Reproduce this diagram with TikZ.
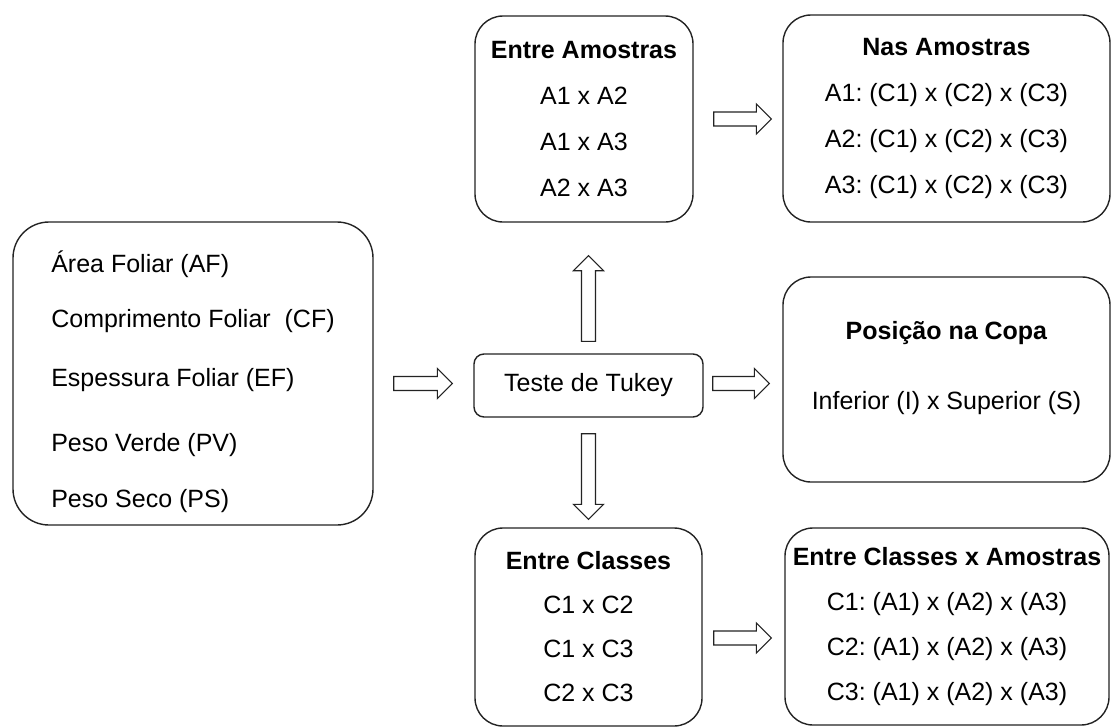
\documentclass[tikz,border=0pt]{standalone}
\usepackage{fontspec}
\setmainfont{Liberation Sans}
\usepackage{tikz}
\usetikzlibrary{calc}
\definecolor{boxline}{RGB}{35, 35, 35}
\frenchspacing

\begin{document}
\begin{tikzpicture}[x=1pt, y=-1pt,
    box/.style={draw=boxline, line width=1.4pt, rounded corners=28pt,
        align=center, inner sep=0pt, font=\fontsize{25}{46}\selectfont},
    hollow/.style={draw=boxline, line width=1.1pt, line join=miter,
        to path={let \p1=(\tikztostart), \p2=(\tikztotarget),
            \n1={veclen(\x2-\x1,\y2-\y1)}, \n2={(\x2-\x1)/\n1}, \n3={(\y2-\y1)/\n1}
            in ({\x1-7*\n3},{\y1+7*\n2}) -- ({\x2-15*\n2-7*\n3},{\y2-15*\n3+7*\n2})
            -- ({\x2-15*\n2-15*\n3},{\y2-15*\n3+15*\n2}) -- (\p2)
            -- ({\x2-15*\n2+15*\n3},{\y2-15*\n3-15*\n2})
            -- ({\x2-15*\n2+7*\n3},{\y2-15*\n3-7*\n2})
            -- ({\x1+7*\n3},{\y1-7*\n2}) -- cycle}}]
\fill[white] (0,0) rectangle (1111,728);
\useasboundingbox (0,0) rectangle (1111,728);

% Variables
\node[box, rounded corners=36pt, align=left, minimum width=360pt, minimum height=303pt,
    text height=272pt, text depth=5pt, font=\fontsize{25}{55}\selectfont] (var) at (193,373.5)
    {Área Foliar (AF)\\Comprimento Foliar~ (CF)\\[4pt]Espessura Foliar (EF)\\[10pt]Peso Verde (PV)\\[1pt]Peso Seco (PS)};

% Test
\node[box, rounded corners=10pt, minimum width=229pt, minimum height=63pt] (tukey) at (588.5,385.5) {Teste de Tukey};

% Middle column
\node[box, minimum width=218pt, minimum height=206pt] (amostras) at (584,119)
    {\textbf{Entre Amostras}\\A1 x A2\\A1 x A3\\A2 x A3};
\node[box, minimum width=227pt, minimum height=198pt, font=\fontsize{25}{44}\selectfont] (classes) at (588.5,627)
    {\textbf{Entre Classes}\\C1 x C2\\C1 x C3\\C2 x C3};

% Right column
\node[box, minimum width=327pt, minimum height=207pt] (nas) at (946.5,118.5)
    {\textbf{Nas Amostras}\\A1: (C1) x (C2) x (C3)\\A2: (C1) x (C2) x (C3)\\A3: (C1) x (C2) x (C3)};
\node[box, minimum width=327pt, minimum height=205pt, text height=64pt, text depth=5pt,
    font=\fontsize{25}{70}\selectfont] (copa) at (946.5,379.5)
    {\textbf{Posição na Copa}\\Inferior (I) x Superior (S)};
\node[box, minimum width=324pt, minimum height=197pt, font=\fontsize{25}{45}\selectfont] (classamo) at (947,626.5)
    {\textbf{Entre Classes x Amostras}\\C1: (A1) x (A2) x (A3)\\C2: (A1) x (A2) x (A3)\\C3: (A1) x (A2) x (A3)};

% Arrows
\draw[hollow] ($(var.east |- tukey.west)+(20,-2)$) to ($(tukey.west)+(-21,-2)$);
\draw[hollow] ($(tukey.east)+(9,-2)$) to ($(tukey.east -| copa.west)+(-13,-2)$);
\draw[hollow] ($(tukey.north)+(0,-12)$) to ($(tukey.north |- amostras.south)+(0,33)$);
\draw[hollow] ($(tukey.south)+(0,16)$) to ($(tukey.south |- classes.north)+(0,-8)$);
\draw[hollow] ($(amostras.east)+(20,0)$) to ($(amostras.east -| nas.west)+(-11,0)$);
\draw[hollow] ($(classes.east)+(11,11)$) to ($(classes.east -| classamo.west)+(-13,11)$);
\end{tikzpicture}
\end{document}
